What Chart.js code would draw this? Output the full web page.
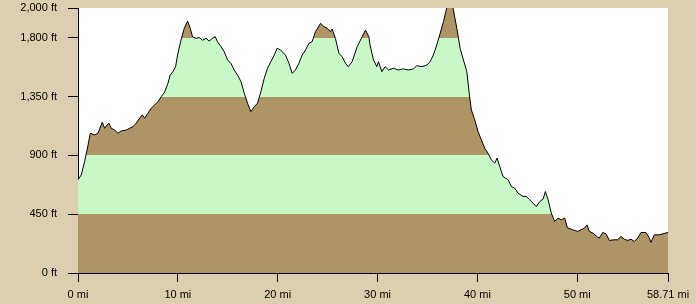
<!DOCTYPE html>
<html lang="en">
<head>
    <meta charset="UTF-8">
    <title>Elevation profile</title>
    <script src="https://cdn.jsdelivr.net/npm/chart.js"></script>
    <style>
        body { margin: 0; background: #dccfb0; }
        canvas { display: block; }
    </style>
</head>
<body>
    <canvas id="profileChart" width="696" height="304"></canvas>

    <script>
        // distance (mi) and elevation (ft)
        const miles = [
            0, 0.33, 0.66, 1.01, 1.23, 1.66, 2.00, 2.43, 2.67, 2.91, 3.10, 3.33, 3.66, 4.00, 4.34, 4.84,
            5.16, 5.50, 5.83, 6.17, 6.44, 6.67, 7.01, 7.33, 7.67, 8.01, 8.34, 8.67, 9.01, 9.23, 9.51, 9.77,
            9.97, 10.31, 10.64, 10.98, 11.24, 11.47, 11.81, 12.14, 12.47, 12.82, 13.14, 13.47, 13.74, 13.97,
            14.32, 14.65, 14.98, 15.31, 15.64, 15.98, 16.32, 16.65, 16.98, 17.31, 17.65, 17.98, 18.32, 18.65,
            18.98, 19.31, 19.65, 19.95, 20.28, 20.78, 21.13, 21.45, 21.78, 22.12, 22.45, 22.79, 23.13, 23.45,
            23.78, 24.29, 24.63, 24.96, 25.28, 25.45, 25.78, 26.13, 26.46, 26.79, 27.06, 27.45, 27.96, 28.46,
            28.79, 29.13, 29.25, 29.59, 29.93, 30.09, 30.43, 30.76, 31.10, 31.59, 32.09, 32.59, 33.10, 33.59,
            33.93, 34.44, 34.94, 35.26, 35.59, 35.93, 36.27, 36.60, 37.00, 37.53, 37.94, 38.27, 38.60, 38.94,
            39.20, 39.40, 39.74, 40.07, 40.40, 40.74, 41.07, 41.40, 41.74, 41.97, 42.24, 42.57, 43.08, 43.40,
            43.74, 44.07, 44.58, 44.91, 45.24, 45.57, 45.90, 46.25, 46.58, 46.81, 47.08, 47.40, 47.74, 48.08,
            48.41, 48.75, 49.01, 49.55, 50.05, 50.38, 50.71, 50.98, 51.21, 51.55, 52.05, 52.21, 52.55, 52.88,
            53.22, 53.71, 54.05, 54.38, 54.71, 55.06, 55.38, 55.71, 56.05, 56.39, 56.89, 57.22, 57.38, 57.72,
            58.22, 58.59, 59.09
        ];
        const elevation = [
            713, 751, 852, 980, 1069, 1056, 1069, 1153, 1107, 1133, 1146, 1107, 1094, 1069, 1087, 1094,
            1107, 1119, 1146, 1184, 1209, 1184, 1222, 1260, 1285, 1311, 1349, 1383, 1451, 1514, 1540, 1578,
            1667, 1781, 1872, 1927, 1872, 1808, 1795, 1801, 1781, 1795, 1774, 1795, 1808, 1769,
            1731, 1692, 1630, 1604, 1553, 1514, 1464, 1375, 1299, 1234, 1272, 1299, 1387, 1489,
            1566, 1616, 1667, 1719, 1706, 1667, 1604, 1527, 1553, 1604, 1667, 1706, 1757, 1769,
            1845, 1909, 1885, 1872, 1845, 1866, 1795, 1680, 1654, 1604, 1578, 1616, 1731, 1808,
            1858, 1808, 1744, 1630, 1578, 1616, 1540, 1578, 1553, 1566, 1553, 1561, 1553, 1561,
            1586, 1578, 1591, 1616, 1667, 1744, 1833, 1922, 2050, 2040, 1872, 1719, 1630, 1540,
            1361, 1247, 1171, 1081, 1018, 954, 916, 865, 840, 879, 814, 738, 713, 661,
            649, 611, 585, 585, 560, 534, 508, 547, 565, 623, 560, 459, 394, 420,
            407, 420, 346, 331, 318, 331, 343, 368, 318, 306, 274, 267, 310, 300,
            249, 254, 254, 279, 259, 249, 259, 241, 267, 310, 310, 267, 234, 292,
            292, 300, 310
        ];

        const xTicks = [0, 10, 20, 30, 40, 50];
        const xMax = 59.09;
        const xEndLabel = '58.71 mi';
        const yTicks = [0, 450, 900, 1350, 1800];
        const yMax = 2027;
        const yTopLabel = '2,000 ft';
        // elevation bands, bottom to top
        const bandLimits = [0, 450, 900, 1350, 1800, 2100];
        const bandColors = ['#ae9565', '#c8f8c8', '#ae9565', '#c8f8c8', '#ae9565'];

        const points = miles.map((m, i) => ({ x: m, y: elevation[i] }));

        // hard-stop gradient so the fill under the line shows the bands
        function bandFill(context) {
            const chart = context.chart;
            if (!chart.chartArea) return null;
            const y = chart.scales.y;
            const y0 = y.getPixelForValue(bandLimits[0]);
            const y1 = y.getPixelForValue(bandLimits[bandLimits.length - 1]);
            const g = chart.ctx.createLinearGradient(0, y0, 0, y1);
            const span = bandLimits[bandLimits.length - 1] - bandLimits[0];
            for (let i = 0; i < bandColors.length; i++) {
                g.addColorStop((bandLimits[i] - bandLimits[0]) / span, bandColors[i]);
                g.addColorStop((bandLimits[i + 1] - bandLimits[0]) / span, bandColors[i]);
            }
            return g;
        }

        const plotBackground = {
            id: 'plotBackground',
            beforeDraw(chart) {
                const a = chart.chartArea;
                chart.ctx.save();
                chart.ctx.fillStyle = '#ffffff';
                chart.ctx.fillRect(a.left, a.top, a.right - a.left, a.bottom - a.top);
                chart.ctx.restore();
            }
        };

        Chart.defaults.font.family = "'Liberation Sans', Arial, sans-serif";
        Chart.defaults.font.size = 11;
        Chart.defaults.color = '#000000';

        new Chart(document.getElementById('profileChart'), {
            type: 'line',
            data: {
                datasets: [{
                    data: points,
                    borderColor: '#000000',
                    borderWidth: 1,
                    backgroundColor: bandFill,
                    fill: 'origin',
                    tension: 0,
                    pointRadius: 0
                }]
            },
            options: {
                responsive: false,
                animation: false,
                layout: { padding: { top: 8, right: 28, left: 0, bottom: 0 } },
                plugins: { legend: { display: false }, tooltip: { enabled: false } },
                scales: {
                    x: {
                        type: 'linear',
                        min: 0,
                        max: xMax,
                        afterBuildTicks: s => { s.ticks = xTicks.concat([xMax]).map(v => ({ value: v })); },
                        afterFit: s => { s.height = 31; s.paddingLeft = 0; s.paddingRight = 0; },
                        ticks: {
                            padding: 6,
                            maxRotation: 0,
                            autoSkip: false,
                            callback: v => v === xMax ? xEndLabel : v + ' mi'
                        },
                        grid: { drawOnChartArea: false, color: '#000000', tickLength: 9 },
                        border: { color: '#000000', width: 1 }
                    },
                    y: {
                        min: 0,
                        max: yMax,
                        afterBuildTicks: s => { s.ticks = yTicks.concat([yMax]).map(v => ({ value: v })); },
                        afterFit: s => { s.width = 78; s.paddingTop = 0; s.paddingBottom = 0; },
                        ticks: {
                            padding: 11,
                            autoSkip: false,
                            callback: v => v === yMax ? yTopLabel : v.toLocaleString('en-US') + ' ft'
                        },
                        grid: { drawOnChartArea: false, color: '#000000', tickLength: 10 },
                        border: { color: '#000000', width: 1 }
                    }
                }
            },
            plugins: [plotBackground]
        });
    </script>
</body>
</html>
